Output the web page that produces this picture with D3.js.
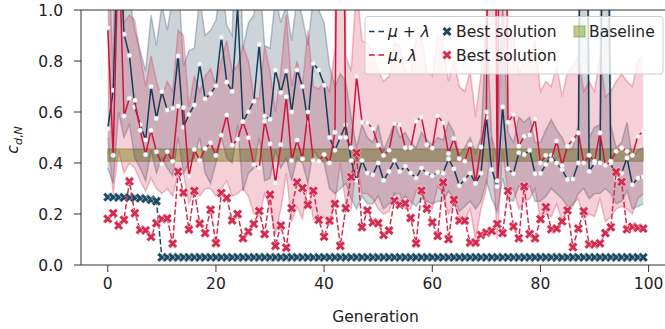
<!DOCTYPE html>
<html>
<head>
<meta charset="utf-8">
<script src="https://cdn.jsdelivr.net/npm/d3@7"></script>
<style>
  body { margin: 0; background: #fff; }
  text { font-family: "DejaVu Sans", sans-serif; fill: #222; }
</style>
</head>
<body>
<div id="chart"></div>
<script>
// generation index 0..99
const generations = d3.range(100);

// mu + lambda : mean, lower and upper edge of the band
const plusMean = [
  0.534, 0.685, 1.35, 0.905, 0.822, 0.62, 0.55, 0.49, 0.70, 0.575,
  0.68, 0.608, 0.615, 0.82, 0.54, 0.59, 0.627, 0.788, 0.652, 0.672,
  0.703, 0.893, 0.717, 0.681, 1.01, 0.562, 0.601, 0.642, 0.865, 0.584,
  0.571, 0.765, 0.676, 0.761, 0.60, 0.765, 0.70, 0.56, 0.79, 0.765,
  0.705, 0.50, 0.45, 0.50, 0.55, 0.41, 0.332, 0.41, 0.361, 0.354,
  0.40, 0.332, 0.367, 0.41, 0.367, 0.387, 0.361, 0.341, 0.38, 0.36,
  0.35, 0.364, 0.36, 0.416, 0.377, 0.311, 0.335, 0.36, 0.32, 0.36,
  0.58, 0.374, 0.308, 0.62, 0.377, 0.358, 0.44, 0.433, 0.45, 0.358,
  0.36, 0.394, 0.43, 0.40, 0.374, 0.335, 0.337, 0.40, 3.4, 0.367,
  0.40, 0.40, 2.4, 0.40, 0.34, 0.36, 0.42, 0.315, 0.341, 0.345
];
const plusLow = [
  0.38, 0.32, 0.6, 0.5, 0.55, 0.42, 0.38, 0.33, 0.45, 0.36,
  0.42, 0.38, 0.35, 0.5, 0.36, 0.4, 0.42, 0.5, 0.36, 0.32,
  0.4, 0.5, 0.42, 0.4, 0.55, 0.29, 0.36, 0.38, 0.5, 0.33,
  0.34, 0.45, 0.38, 0.42, 0.33, 0.42, 0.4, 0.32, 0.45, 0.42,
  0.4, 0.3, 0.28, 0.3, 0.32, 0.26, 0.22, 0.27, 0.24, 0.24,
  0.27, 0.22, 0.24, 0.28, 0.25, 0.27, 0.25, 0.23, 0.26, 0.25,
  0.24, 0.25, 0.25, 0.29, 0.26, 0.21, 0.23, 0.25, 0.22, 0.25,
  0.33, 0.26, 0.21, 0.34, 0.26, 0.25, 0.31, 0.3, 0.31, 0.25,
  0.25, 0.27, 0.3, 0.28, 0.26, 0.23, 0.23, 0.28, 0.3, 0.26,
  0.28, 0.28, 0.3, 0.28, 0.24, 0.25, 0.29, 0.22, 0.23, 0.24
];
const plusHigh = [
  1.10, 1.25, 1.9, 1.45, 1.05, 0.92, 0.84, 0.76, 0.98, 0.86,
  1.02, 0.92, 1.05, 1.15, 0.78, 0.84, 0.85, 1.05, 0.9, 0.92,
  0.96, 1.12, 0.94, 0.9, 1.5, 0.85, 0.95, 0.98, 1.15, 0.86,
  0.85, 1.05, 0.95, 1.02, 0.88, 1.05, 0.97, 0.86, 1.05, 1.0,
  0.95, 0.78, 0.7, 0.75, 0.72, 0.58, 0.46, 0.55, 0.5, 0.48,
  0.55, 0.45, 0.5, 0.56, 0.5, 0.52, 0.48, 0.46, 0.52, 0.49,
  0.47, 0.5, 0.49, 0.56, 0.52, 0.43, 0.46, 0.5, 0.44, 0.5,
  0.95, 0.5, 0.42, 1.05, 0.52, 0.48, 0.58, 0.56, 0.58, 0.48,
  0.48, 0.53, 0.57, 0.53, 0.5, 0.45, 0.46, 0.55, 7.5, 0.5,
  0.54, 0.55, 5.5, 0.55, 0.46, 0.48, 0.56, 0.42, 0.45, 0.46
];

// mu , lambda : mean, lower and upper edge of the band
const commaMean = [
  0.93, 0.43, 1.3, 0.584, 0.654, 0.646, 0.528, 0.433, 0.528, 0.444,
  0.396, 0.444, 0.407, 0.623, 0.617, 0.348, 0.453, 0.411, 0.457, 0.479,
  0.43, 0.509, 0.588, 0.47, 0.493, 0.562, 0.499, 0.394, 0.38, 0.564,
  0.475, 0.322, 0.472, 0.66, 0.41, 0.49, 0.416, 0.60, 0.41, 0.407,
  0.433, 0.40, 0.52, 2.9, 0.50, 0.46, 0.74, 0.56, 0.558, 0.535,
  0.47, 0.43, 0.45, 0.555, 0.55, 0.46, 0.46, 0.564, 0.58, 0.472,
  0.459, 0.585, 0.558, 0.437, 0.496, 0.417, 0.407, 0.472, 0.32, 0.463,
  0.60, 3.5, 0.33, 3.0, 0.56, 0.59, 0.466, 0.505, 0.51, 0.573,
  0.40, 0.43, 0.413, 0.486, 0.39, 0.466, 0.492, 0.518, 0.40, 0.43,
  0.407, 0.518, 0.391, 0.407, 0.446, 0.459, 0.446, 0.43, 0.505, 0.525
];
const commaLow = [
  0.5, 0.28, 0.45, 0.36, 0.4, 0.38, 0.33, 0.29, 0.34, 0.3,
  0.28, 0.3, 0.27, 0.36, 0.36, 0.24, 0.3, 0.27, 0.3, 0.3,
  0.27, 0.3, 0.33, 0.27, 0.28, 0.3, 0.27, 0.2, 0.19, 0.28,
  0.22, 0.12, 0.22, 0.36, 0.17, 0.23, 0.18, 0.32, 0.18, 0.17,
  0.19, 0.16, 0.25, 0.4, 0.24, 0.22, 0.4, 0.28, 0.28, 0.26,
  0.22, 0.2, 0.21, 0.28, 0.28, 0.22, 0.22, 0.29, 0.3, 0.23,
  0.22, 0.31, 0.28, 0.2, 0.24, 0.19, 0.18, 0.22, 0.1, 0.22,
  0.3, 0.5, 0.1, 0.45, 0.28, 0.3, 0.22, 0.25, 0.26, 0.3,
  0.18, 0.2, 0.19, 0.24, 0.17, 0.22, 0.24, 0.26, 0.18, 0.2,
  0.19, 0.26, 0.17, 0.19, 0.22, 0.23, 0.22, 0.2, 0.26, 0.28
];
const commaHigh = [
  1.3, 0.75, 2.2, 0.95, 0.98, 0.96, 0.82, 0.7, 0.82, 0.72,
  0.66, 0.72, 0.68, 0.92, 0.9, 0.62, 0.74, 0.68, 0.74, 0.77,
  0.7, 0.8, 0.88, 0.76, 0.78, 0.86, 0.8, 0.66, 0.65, 0.86,
  0.76, 0.6, 0.76, 0.98, 0.7, 0.8, 0.7, 0.92, 0.7, 0.69,
  0.72, 0.68, 0.85, 5.5, 0.82, 0.76, 1.1, 0.88, 0.87, 0.84,
  0.76, 0.72, 0.74, 0.87, 0.86, 0.76, 0.75, 0.88, 0.9, 0.76,
  0.74, 0.9, 0.87, 0.72, 0.8, 0.7, 0.68, 0.76, 0.58, 0.75,
  0.95, 6.5, 0.6, 5.8, 0.88, 0.9, 0.75, 0.8, 0.8, 0.88,
  0.68, 0.72, 0.7, 0.78, 0.66, 0.76, 0.78, 0.82, 0.68, 0.72,
  0.68, 0.82, 0.66, 0.68, 0.72, 0.75, 0.72, 0.7, 0.8, 0.82
];

// best solution found per generation
const plusBest = [
  0.266, 0.266, 0.265, 0.265, 0.264, 0.263, 0.262, 0.26, 0.256, 0.25,
  0.03, 0.03, 0.03, 0.03, 0.03, 0.03, 0.03, 0.03, 0.03, 0.03,
  0.03, 0.03, 0.03, 0.03, 0.03, 0.03, 0.03, 0.03, 0.03, 0.03,
  0.03, 0.03, 0.03, 0.03, 0.03, 0.03, 0.03, 0.03, 0.03, 0.03,
  0.03, 0.03, 0.03, 0.03, 0.03, 0.03, 0.03, 0.03, 0.03, 0.03,
  0.03, 0.03, 0.03, 0.03, 0.03, 0.03, 0.03, 0.03, 0.03, 0.03,
  0.03, 0.03, 0.03, 0.03, 0.03, 0.03, 0.03, 0.03, 0.03, 0.03,
  0.03, 0.03, 0.03, 0.03, 0.03, 0.03, 0.03, 0.03, 0.03, 0.03,
  0.03, 0.03, 0.03, 0.03, 0.03, 0.03, 0.03, 0.03, 0.03, 0.03,
  0.03, 0.03, 0.03, 0.03, 0.03, 0.03, 0.03, 0.03, 0.03, 0.03
];
const commaBest = [
  0.181, 0.203, 0.155, 0.177, 0.328, 0.203, 0.138, 0.136, 0.11, 0.164,
  0.18, 0.183, 0.084, 0.366, 0.284, 0.139, 0.291, 0.162, 0.125, 0.217,
  0.086, 0.282, 0.263, 0.175, 0.2, 0.105, 0.131, 0.161, 0.212, 0.121,
  0.276, 0.075, 0.155, 0.068, 0.223, 0.324, 0.302, 0.236, 0.291, 0.177,
  0.111, 0.174, 0.24, 0.075, 0.223, 0.345, 0.44, 0.148, 0.214, 0.167,
  0.164, 0.118, 0.135, 0.252, 0.236, 0.242, 0.184, 0.085, 0.292, 0.221,
  0.167, 0.114, 0.324, 0.101, 0.256, 0.174, 0.174, 0.088, 0.088, 0.118,
  0.127, 0.134, 0.161, 0.125, 0.291, 0.151, 0.105, 0.308, 0.121, 0.105,
  0.18, 0.227, 0.14, 0.143, 0.171, 0.214, 0.07, 0.143, 0.211, 0.081,
  0.081, 0.085, 0.125, 0.148, 0.365, 0.326, 0.14, 0.15, 0.146, 0.143
];

// baseline band (same for every generation)
const baselineRange = [0.407, 0.455];
const baselineSpan = [0, 99];

const yTicks = [0.0, 0.2, 0.4, 0.6, 0.8, 1.0];
const xTicks = [0, 20, 40, 60, 80, 100];

const blue = "#173d55";
const red = "#d0143c";

const width = 665, height = 329;
const margin = { top: 10, right: -5, bottom: 64, left: 81 };

const x = d3.scaleLinear()
  .domain([-4.95, 103.95])
  .range([margin.left, width - margin.right]);
const y = d3.scaleLinear()
  .domain([0, 1])
  .range([height - margin.bottom, margin.top]);

const svg = d3.select("#chart")
  .append("svg")
  .attr("width", width)
  .attr("height", height);

svg.append("clipPath").attr("id", "plot")
  .append("rect")
  .attr("x", margin.left)
  .attr("y", margin.top)
  .attr("width", width - margin.right - margin.left)
  .attr("height", height - margin.bottom - margin.top);

const plot = svg.append("g").attr("clip-path", "url(#plot)");

// baseline band drawn first so the others tint it
plot.append("rect")
  .attr("x", x(baselineSpan[0]))
  .attr("y", y(baselineRange[1]))
  .attr("width", x(baselineSpan[1]) - x(baselineSpan[0]))
  .attr("height", y(baselineRange[0]) - y(baselineRange[1]))
  .attr("fill", "rgb(125,170,50)")
  .attr("fill-opacity", 0.55)
  .attr("stroke", "rgb(110,150,30)")
  .attr("stroke-opacity", 0.6);

function band(lo, hi, color, fillOp, edgeOp) {
  const area = d3.area()
    .x((d, i) => x(generations[i]))
    .y0((d, i) => y(lo[i]))
    .y1((d, i) => y(hi[i]));
  plot.append("path")
    .datum(generations)
    .attr("d", area)
    .attr("fill", color)
    .attr("fill-opacity", fillOp);
  [lo, hi].forEach(edge => {
    plot.append("path")
      .datum(edge)
      .attr("d", d3.line().x((d, i) => x(generations[i])).y(d => y(d)))
      .attr("fill", "none")
      .attr("stroke", color)
      .attr("stroke-opacity", edgeOp)
      .attr("stroke-width", 1.5);
  });
}

band(plusLow, plusHigh, blue, 0.22, 0.28);
band(commaLow, commaHigh, red, 0.2, 0.28);

const line = d3.line().x((d, i) => x(generations[i])).y(d => y(d));

function meanLine(vals, color) {
  plot.append("path")
    .datum(vals)
    .attr("d", line)
    .attr("fill", "none")
    .attr("stroke", color)
    .attr("stroke-width", 1.5);
  plot.append("g").selectAll("circle")
    .data(vals)
    .join("circle")
    .attr("cx", (d, i) => x(generations[i]))
    .attr("cy", d => y(d))
    .attr("r", 2.3)
    .attr("fill", "#fff")
    .attr("stroke", "#d8d8d8")
    .attr("stroke-width", 0.5);
}
meanLine(plusMean, blue);
meanLine(commaMean, red);

const xMark = d3.symbol(d3.symbolCross, 58)();

function bestLine(vals, color) {
  plot.append("path")
    .datum(vals)
    .attr("d", line)
    .attr("fill", "none")
    .attr("stroke", color)
    .attr("stroke-width", 1.5)
    .attr("stroke-dasharray", "5.5,2.4");
  plot.append("g").selectAll("path")
    .data(vals)
    .join("path")
    .attr("d", xMark)
    .attr("transform", (d, i) => `translate(${x(generations[i])},${y(d)}) rotate(45)`)
    .attr("fill", color)
    .attr("stroke", "#fff")
    .attr("stroke-width", 0.5);
}
bestLine(plusBest, "#1c4a63");
bestLine(commaBest, "#d52b4f");

// axes frame
const axisColor = "#333";
svg.append("line")
  .attr("x1", margin.left).attr("x2", width)
  .attr("y1", y(0)).attr("y2", y(0))
  .attr("stroke", axisColor);
svg.append("line")
  .attr("x1", margin.left).attr("x2", width)
  .attr("y1", y(1)).attr("y2", y(1))
  .attr("stroke", axisColor);
svg.append("line")
  .attr("x1", margin.left).attr("x2", margin.left)
  .attr("y1", y(0)).attr("y2", y(1))
  .attr("stroke", axisColor);

const fs = 15.5;
svg.append("g").selectAll("g")
  .data(yTicks)
  .join("g")
  .each(function (d) {
    const g = d3.select(this);
    g.append("line")
      .attr("x1", margin.left - 7).attr("x2", margin.left)
      .attr("y1", y(d)).attr("y2", y(d))
      .attr("stroke", axisColor);
    g.append("text")
      .attr("x", margin.left - 18)
      .attr("y", y(d))
      .attr("dy", "0.36em")
      .attr("text-anchor", "end")
      .style("font-size", fs + "px")
      .text(d.toFixed(1));
  });

svg.append("g").selectAll("g")
  .data(xTicks)
  .join("g")
  .each(function (d) {
    const g = d3.select(this);
    g.append("line")
      .attr("x1", x(d)).attr("x2", x(d))
      .attr("y1", y(0)).attr("y2", y(0) + 7)
      .attr("stroke", axisColor);
    g.append("text")
      .attr("x", x(d))
      .attr("y", y(0) + 24)
      .attr("text-anchor", "middle")
      .style("font-size", fs + "px")
      .text(d);
  });

svg.append("text")
  .attr("x", (margin.left + 670) / 2)
  .attr("y", 322)
  .attr("text-anchor", "middle")
  .style("font-size", fs + "px")
  .text("Generation");

const yl = svg.append("text")
  .attr("transform", "translate(18,140) rotate(-90)")
  .attr("text-anchor", "middle")
  .style("font-size", fs + "px");
yl.append("tspan").style("font-style", "italic").text("c");
yl.append("tspan").attr("dy", 4).style("font-size", "11px").style("font-style", "italic").text("d");
yl.append("tspan").style("font-size", "11px").text(",");
yl.append("tspan").style("font-size", "11px").style("font-style", "italic").text("N");

// legend
const lg = svg.append("g");
lg.append("rect")
  .attr("x", 365).attr("y", 16.5)
  .attr("width", 298).attr("height", 57.5)
  .attr("rx", 3)
  .attr("fill", "#fff").attr("fill-opacity", 0.8)
  .attr("stroke", "#ccc");

const rows = [31.5, 55];
[[blue, "+"], [red, ","]].forEach(([c, op], i) => {
  lg.append("line")
    .attr("x1", 369).attr("x2", 384)
    .attr("y1", rows[i]).attr("y2", rows[i])
    .attr("stroke", c).attr("stroke-width", 1.5);
  lg.append("circle")
    .attr("cx", 376.5).attr("cy", rows[i]).attr("r", 2)
    .attr("fill", "#fff");
  const t = lg.append("text")
    .attr("x", 388).attr("y", rows[i]).attr("dy", "0.36em")
    .style("font-size", fs + "px");
  t.append("tspan").style("font-style", "italic").text("μ");
  t.append("tspan").text(op === "+" ? " + " : ", ");
  t.append("tspan").style("font-style", "italic").text("λ");
});
[["#1c4a63", rows[0]], ["#d52b4f", rows[1]]].forEach(([c, ry]) => {
  lg.append("path")
    .attr("d", xMark)
    .attr("transform", `translate(447,${ry}) rotate(45)`)
    .attr("fill", c).attr("stroke", "#fff").attr("stroke-width", 0.5);
  lg.append("text")
    .attr("x", 456).attr("y", ry).attr("dy", "0.36em")
    .style("font-size", fs + "px")
    .text("Best solution");
});
lg.append("rect")
  .attr("x", 574).attr("y", rows[0] - 5.5)
  .attr("width", 11).attr("height", 11)
  .attr("fill", "rgb(125,170,50)").attr("fill-opacity", 0.55)
  .attr("stroke", "rgb(110,150,30)").attr("stroke-opacity", 0.6);
lg.append("text")
  .attr("x", 589).attr("y", rows[0]).attr("dy", "0.36em")
  .style("font-size", fs + "px")
  .text("Baseline");
</script>
</body>
</html>
